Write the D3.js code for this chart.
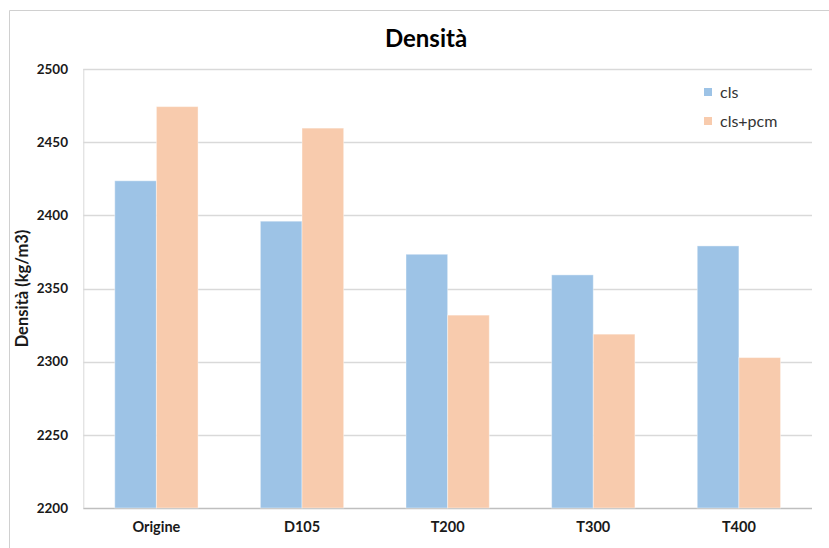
<!DOCTYPE html>
<html>
<head>
<meta charset="utf-8">
<script src="https://cdn.jsdelivr.net/npm/d3@7"></script>
<style>
  body { margin: 0; background: #fff; }
  svg { display: block; font-family: Lato, "Open Sans", sans-serif; }
</style>
</head>
<body>
<svg></svg>
<script>
const categories = ["Origine", "D105", "T200", "T300", "T400"];
const seriesNames = ["cls", "cls+pcm"];
const clsValues = [2423.6, 2396, 2373.4, 2359.3, 2379.1];
const pcmValues = [2474.3, 2459.6, 2331.8, 2318.8, 2302.8];
const yTicks = [2200, 2250, 2300, 2350, 2400, 2450, 2500];

const W = 829, H = 548;
const margin = { top: 69, right: 17, bottom: 40, left: 83.3 };

const svg = d3.select("svg").attr("width", W).attr("height", H);

const colorScale = d3.scaleOrdinal()
  .domain(seriesNames)
  .range(["#9DC3E6", "#F8CBAD"]);

// outer chart frame
svg.append("path")
  .attr("d", `M9.5,${H} V10.5 H${W}`)
  .attr("fill", "none")
  .attr("stroke", "#d0d0d0")
  .attr("stroke-width", 1);

const x0 = d3.scaleBand()
  .domain(categories)
  .range([margin.left, W - margin.right])
  .paddingInner(0.428)
  .paddingOuter(0.216);

const x1 = d3.scaleBand()
  .domain(seriesNames)
  .range([0, x0.bandwidth()]);

const y = d3.scaleLinear()
  .domain([2200, 2500])
  .range([H - margin.bottom, margin.top]);

// gridlines
svg.append("g")
  .selectAll("line")
  .data(yTicks)
  .join("line")
  .attr("x1", margin.left)
  .attr("x2", W - margin.right)
  .attr("y1", d => Math.round(y(d)) + 0.5)
  .attr("y2", d => Math.round(y(d)) + 0.5)
  .attr("stroke", d => d === 2200 ? "#bfbfbf" : "#d9d9d9")
  .attr("stroke-width", 1.3);

// left axis line
svg.append("line")
  .attr("x1", margin.left + 0.5).attr("x2", margin.left + 0.5)
  .attr("y1", y(2500)).attr("y2", y(2200))
  .attr("stroke", "#d9d9d9");

const data = categories.map((c, i) => ({
  category: c,
  values: [
    { series: "cls", value: clsValues[i] },
    { series: "cls+pcm", value: pcmValues[i] }
  ]
}));

const group = svg.append("g")
  .selectAll("g")
  .data(data)
  .join("g")
  .attr("transform", d => `translate(${x0(d.category)},0)`);

group.selectAll("rect")
  .data(d => d.values)
  .join("rect")
  .attr("x", d => x1(d.series))
  .attr("y", d => y(d.value))
  .attr("width", x1.bandwidth())
  .attr("height", d => y(2200) - y(d.value))
  .attr("fill", d => colorScale(d.series))
  .attr("stroke", "#fff")
  .attr("stroke-opacity", 0.4)
  .attr("stroke-width", 1);

// y tick labels
svg.append("g")
  .selectAll("text")
  .data(yTicks)
  .join("text")
  .attr("x", 68)
  .attr("y", d => y(d))
  .attr("dy", "0.35em")
  .attr("text-anchor", "end")
  .style("font-size", "13.5px")
  .style("font-weight", "bold")
  .attr("fill", "#1a1a1a")
  .text(d => d);

// x labels
svg.append("g")
  .selectAll("text")
  .data(categories)
  .join("text")
  .attr("x", d => x0(d) + x0.bandwidth() / 2)
  .attr("y", 532)
  .attr("text-anchor", "middle")
  .style("font-size", "14.5px")
  .style("font-weight", "bold")
  .attr("fill", "#1a1a1a")
  .text(d => d);

// title
svg.append("text")
  .attr("x", 426)
  .attr("y", 47)
  .attr("text-anchor", "middle")
  .style("font-size", "24px")
  .style("font-weight", "bold")
  .attr("fill", "#000")
  .text("Densità");

// y axis title
svg.append("text")
  .attr("transform", `translate(28,${(y(2200) + y(2500)) / 2}) rotate(-90)`)
  .attr("text-anchor", "middle")
  .style("font-size", "16.5px")
  .style("font-weight", "bold")
  .attr("fill", "#1a1a1a")
  .text("Densità (kg/m3)");

// legend
const legend = svg.append("g").attr("transform", "translate(704,88)");
seriesNames.forEach((s, i) => {
  const row = legend.append("g").attr("transform", `translate(0,${i * 29})`);
  row.append("rect")
    .attr("width", 8)
    .attr("height", 8)
    .attr("fill", colorScale(s));
  row.append("text")
    .attr("x", 16)
    .attr("y", 4)
    .attr("dy", "0.35em")
    .style("font-size", "16px")
    .attr("fill", "#333")
    .text(s);
});
</script>
</body>
</html>
